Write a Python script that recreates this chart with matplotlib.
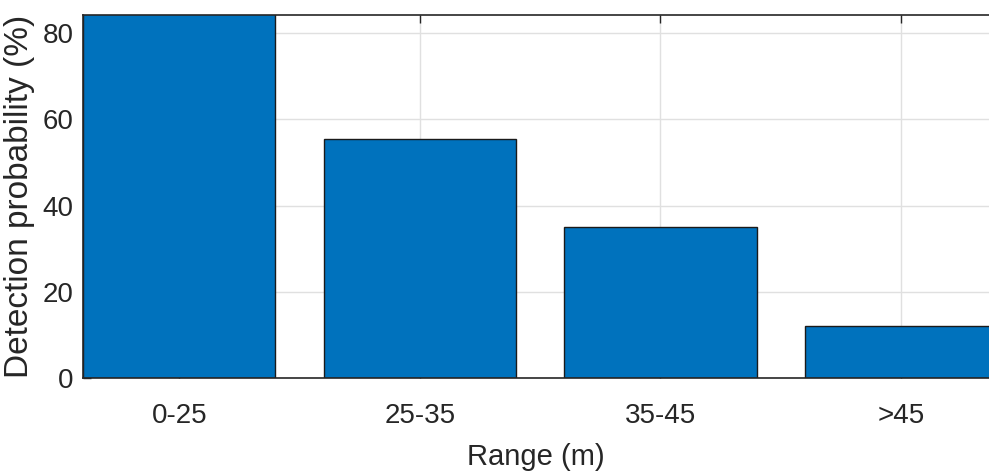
import numpy as np
import matplotlib
matplotlib.use('Agg')
import matplotlib.pyplot as plt

plt.rcParams['font.family'] = ['Liberation Sans', 'DejaVu Sans']

ranges = ['0-25', '25-35', '35-45', '>45']
probability = [85.0, 55.5, 35.0, 12.0]

x = np.arange(1, len(ranges) + 1)

fig = plt.figure(figsize=(9.89, 4.74), dpi=100)
ax = fig.add_axes([0.0839, 0.202, 1 - 0.0839, 0.767])

ax.bar(x, probability, width=0.8, color='#0072BD', edgecolor='#1a1a1a',
       linewidth=1.0, zorder=2)

ax.set_xlim(0.6, 4.366)
ax.set_ylim(0, 84.2)
ax.set_xticks(x)
ax.set_xticklabels(ranges)
ax.set_yticks([0, 20, 40, 60, 80])

ax.grid(True, color='#e0e0e0', linewidth=1.0, zorder=0)
ax.set_axisbelow(True)

ax.tick_params(direction='in', length=6, width=1, colors='#262626',
               labelsize=20, top=True)
ax.tick_params(axis='x', pad=18)
ax.tick_params(axis='y', pad=7)
for side in ['left', 'bottom', 'top']:
    ax.spines[side].set_color('#262626')
    ax.spines[side].set_linewidth(1.2)
ax.spines['right'].set_visible(False)

ax.set_xlabel('Range (m)', fontsize=21, color='#262626', labelpad=10)
ax.set_ylabel('Detection probability (%)', fontsize=24, color='#262626')
ax.yaxis.set_label_coords(-0.053, 0.5)

fig.savefig('out.png', dpi=100)
